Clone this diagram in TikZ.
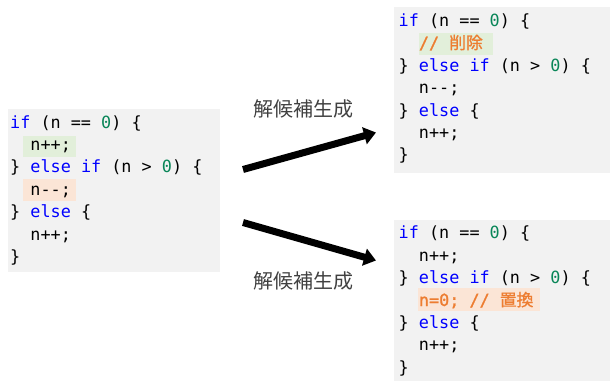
\documentclass[tikz,border=0pt]{standalone}
\usepackage{fontspec}
\setmonofont{DejaVu Sans Mono}
\newfontfamily\monosemi{DejaVu Sans Mono}[FakeBold=1.2]
\newfontfamily\cjkfont{Noto Sans CJK JP}
\newfontfamily\cjkbfont{Noto Sans CJK JP}[FakeBold=1]
\usetikzlibrary{arrows.meta}
\definecolor{boxgray}{HTML}{F2F2F2}
\definecolor{kwblue}{HTML}{0000FF}
\definecolor{numgreen}{HTML}{098658}
\definecolor{hlgreen}{HTML}{E2EFDA}
\definecolor{hlorange}{HTML}{FBE5D6}
\definecolor{txorange}{HTML}{ED7D31}
\definecolor{labelgray}{HTML}{404040}
\newcommand\kwd[1]{\textcolor{kwblue}{#1}}
\newcommand\cnum[1]{\textcolor{numgreen}{#1}}
\newcommand\corg[1]{\textcolor{txorange}{\monosemi #1}}
\begin{document}
\begin{tikzpicture}[x=1pt,y=-1pt,
  codebox/.style={fill=boxgray, draw=none, anchor=north west, inner sep=0pt},
  codeline/.style={anchor=base west, inner sep=0pt, text=black,
    font=\fontsize{16.8}{20}\selectfont\ttfamily},
  candlabel/.style={inner sep=0pt, text=labelgray,
    font=\cjkfont\fontsize{20}{24}\selectfont},
  bigarrow/.style={line width=7pt, -{Triangle[length=12pt,width=17pt]}}]
\useasboundingbox (0,0) rectangle (611,381);

% boxes
\node[codebox, minimum width=212.7pt, minimum height=162.7pt] (src) at (7.3,109) {};
\node[codebox, minimum width=216pt, minimum height=166.3pt] (cand1) at (394,6.7) {};
\node[codebox, minimum width=216pt, minimum height=161pt] (cand2) at (394,219.3) {};

% highlights
\fill[hlgreen] (22.7,136) rectangle (76,157.3);
\fill[hlorange] (22.7,179.3) rectangle (76,200.7);
\fill[hlgreen] (419,32.7) rectangle (493,55);
\fill[hlorange] (417.7,288.3) rectangle (540,310.7);

% source code
\node[codeline] (s1) at (10,128)   {\kwd{if} (n == \cnum{0}) \{};
\node[codeline] (s2) at (10,150.4) {~~n++;};
\node[codeline] (s3) at (10,172.8) {\} \kwd{else} \kwd{if} (n > \cnum{0}) \{};
\node[codeline] (s4) at (10,195.2) {~~n-{}-;};
\node[codeline] (s5) at (10,217.6) {\} \kwd{else} \{};
\node[codeline] (s6) at (10,240)   {~~n++;};
\node[codeline] (s7) at (10,262.4) {\}};

% candidate 1
\node[codeline] (t1) at (398.5,26.5)  {\kwd{if} (n == \cnum{0}) \{};
\node[codeline] (t2) at (398.5,48.9)  {~~\corg{// {\cjkbfont 削除}}};
\node[codeline] (t3) at (398.5,71.3)  {\} \kwd{else} \kwd{if} (n > \cnum{0}) \{};
\node[codeline] (t4) at (398.5,93.7)  {~~n-{}-;};
\node[codeline] (t5) at (398.5,116.1) {\} \kwd{else} \{};
\node[codeline] (t6) at (398.5,138.5) {~~n++;};
\node[codeline] (t7) at (398.5,160.9) {\}};

% candidate 2
\node[codeline] (u1) at (398.5,238.8) {\kwd{if} (n == \cnum{0}) \{};
\node[codeline] (u2) at (398.5,261.2) {~~n++;};
\node[codeline] (u3) at (398.5,283.6) {\} \kwd{else} \kwd{if} (n > \cnum{0}) \{};
\node[codeline] (u4) at (398.5,306)   {~~\corg{n=0; // {\cjkbfont 置換}}};
\node[codeline] (u5) at (398.5,328.4) {\} \kwd{else} \{};
\node[codeline] (u6) at (398.5,350.8) {~~n++;};
\node[codeline] (u7) at (398.5,373.2) {\}};

% labels
\node[candlabel] (lab1) at (303,109) {解候補生成};
\node[candlabel] (lab2) at (303,281) {解候補生成};

% arrows
\coordinate (a1s) at (243,169.5);
\coordinate (a1e) at (376,132.5);
\coordinate (a2s) at (243,222.5);
\coordinate (a2e) at (376,260.5);
\draw[bigarrow] (a1s) -- (a1e);
\draw[bigarrow] (a2s) -- (a2e);
\end{tikzpicture}
\end{document}
